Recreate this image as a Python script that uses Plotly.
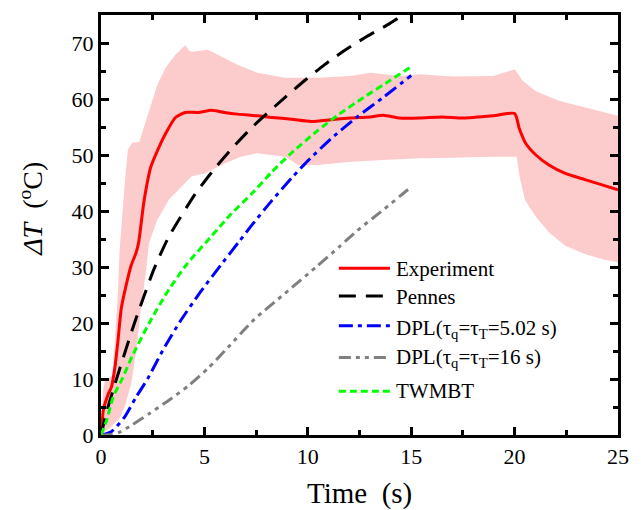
import plotly.graph_objects as go

# ---------------- data ----------------
t_exp = [0, 0.03, 0.11, 0.35, 0.5, 0.67, 0.82, 0.98, 1.22, 1.46, 1.7, 1.82, 2.09, 2.41, 2.73,
         3.12, 3.6, 4.07, 4.7, 5.34, 5.97, 6.6, 7.56, 8.27, 9.22, 10.17, 11.12, 12.07, 13.02,
         13.65, 14.45, 15.4, 16.5, 17.5, 18.96, 20.0, 20.23, 20.55, 21.03, 21.66, 22.45, 23.4,
         24.19, 25.0]
exp_mean = [0, 0.6, 4.4, 7.3, 8.5, 12.0, 16.8, 22.6, 26.8, 30.3, 32.6, 34.4, 42.0, 47.9, 50.8,
            53.8, 56.7, 57.6, 57.6, 58.0, 57.6, 57.3, 57.0, 56.7, 56.4, 56.0, 56.3, 56.6, 56.8,
            57.1, 56.6, 56.6, 56.8, 56.6, 57.0, 57.4, 54.7, 52.0, 50.0, 48.2, 46.7, 45.6,
            44.7, 43.8]

t_upper = [0, 0.1, 0.2, 0.55, 0.67, 0.82, 0.9, 1.0, 1.15, 1.3, 1.5, 1.85, 2.0, 2.33, 2.73, 3.12,
           3.6, 4.07, 4.3, 4.55, 5.18, 5.81, 6.6, 7.56, 8.9, 10.5, 12.07, 13.02, 14.45, 15.4,
           17.0, 18.96, 20.0, 20.4, 21.03, 22.13, 23.4, 25.0]
exp_upper = [0, 8.0, 10.0, 10.5, 16.8, 25.6, 33.0, 38.0, 45.0, 51.0, 52.2, 52.3, 54.0, 57.9, 62.6,
             65.6, 67.9, 69.6, 68.5, 68.5, 68.8, 67.6, 66.1, 64.7, 63.8, 63.8, 64.1, 64.7, 64.1,
             64.4, 64.0, 64.1, 65.3, 63.2, 61.4, 59.7, 58.5, 57.0]

t_lower = [0, 0.5, 0.9, 1.14, 1.46, 1.7, 1.93, 2.17, 2.33, 2.73, 3.28, 3.91, 4.39, 5.02, 5.97,
           6.76, 7.56, 8.9, 9.54, 10.49, 12.07, 13.65, 15.4, 17.0, 18.96, 20.1, 20.25, 20.5,
           21.0, 21.66, 22.45, 23.4, 24.35, 25.0]
exp_lower = [0, 1.5, 3.0, 5.0, 9.1, 15.0, 22.6, 29.1, 34.4, 38.5, 42.0, 44.4, 46.2, 46.7, 48.5,
             49.7, 50.3, 49.7, 48.2, 48.2, 48.8, 49.1, 49.4, 49.5, 49.7, 49.7, 46.0, 42.0,
             39.1, 36.2, 33.8, 32.3, 31.3, 30.9]

t_pennes = [0, 0.3, 0.75, 1.62, 2.57, 3.28, 4.55, 5.5, 6.29, 7.32, 8.9, 9.85, 10.8,
            11.92, 12.87, 13.97, 15.0]
pennes = [0, 4.5, 10.0, 20.0, 29.7, 35.4, 43.0, 47.6, 51.0, 55.0, 60.3, 63.3, 66.1,
          69.0, 71.2, 73.5, 76.0]

t_dpl1 = [0, 0.5, 1.14, 1.7, 2.25, 3.0, 3.83, 4.8, 5.89, 6.69, 7.32, 8.27, 9.22, 10.01,
          11.12, 12.39, 13.65, 15.0]
dpl1 = [0, 0.6, 3.2, 6.8, 10.0, 15.2, 20.3, 25.5, 30.8, 34.6, 37.6, 41.9, 45.9, 49.0,
        52.9, 56.8, 60.3, 64.2]

t_dpl2 = [0, 0.5, 0.9, 1.5, 2.33, 3.2, 4.23, 5.2, 6.13, 7.4, 8.9, 10.4, 11.52, 12.39,
          13.65, 14.84, 15.0]
dpl2 = [0, 0.1, 0.5, 1.8, 3.8, 6.0, 8.8, 12.0, 15.6, 20.6, 25.3, 30.0, 33.6, 36.5,
        40.2, 43.8, 44.2]

t_twmbt = [0, 0.27, 0.59, 1.06, 1.5, 2.33, 3.2, 4.15, 5.34, 6.3, 7.32, 8.27, 9.22, 10.49,
           11.44, 12.71, 13.97, 15.0]
twmbt = [0, 2.6, 6.8, 10.3, 14.0, 20.0, 25.5, 30.5, 35.5, 39.5, 43.2, 47.0, 50.4, 54.4,
         57.1, 60.3, 63.3, 65.8]

legend_names = ["Experiment", "Pennes", "DPL(τ<sub>q</sub>=τ<sub>T</sub>=5.02 s)",
                "DPL(τ<sub>q</sub>=τ<sub>T</sub>=16 s)", "TWMBT"]

x_ticks = [0, 5, 10, 15, 20, 25]
y_ticks = [0, 10, 20, 30, 40, 50, 60, 70]

# ---------------- styling ----------------
FONT = "Liberation Serif"
colors = ["#FF0000", "#000000", "#0000FF", "#808080", "#00FF00"]
dashes = ["solid", "17px,10px", "14px,5px,4px,5px", "12px,5px,4px,5px,4px,5px", "7px,4px"]
widths = [3, 3, 3, 3, 3]

fig = go.Figure()

band_x = t_upper + t_lower[::-1]
band_y = exp_upper + exp_lower[::-1]
fig.add_trace(go.Scatter(x=band_x, y=band_y, fill="toself", fillcolor="#FCCBCB",
                         mode="lines", line=dict(width=0), hoverinfo="skip", showlegend=False))

series = [(t_exp, exp_mean), (t_pennes, pennes), (t_dpl1, dpl1), (t_dpl2, dpl2), (t_twmbt, twmbt)]
for i, (xs, ys) in enumerate(series):
    fig.add_trace(go.Scatter(x=xs, y=ys, mode="lines", name=legend_names[i],
                             line=dict(color=colors[i], width=widths[i], dash=dashes[i],
                                       shape="spline", smoothing=0.6),
                             showlegend=False))

# ---------------- layout in page pixels ----------------
PAGE_W, PAGE_H = 641, 510
L, R, T, B = 101, 627, 12, 435
W, H = R - L, B - T
def px(x):
    return (x - L) / W
def py(y):
    return (B - y) / H

line_y = [267, 295, 325, 357, 391]
text_y = [268, 296, 328, 357, 391]
shapes = []
annotations = []
for i in range(5):
    shapes.append(dict(type="line", xref="paper", yref="paper",
                       x0=px(343), x1=px(395), y0=py(line_y[i]), y1=py(line_y[i]),
                       line=dict(color=colors[i], width=widths[i], dash=dashes[i])))
    annotations.append(dict(xref="paper", yref="paper", x=px(399), y=py(text_y[i]),
                            xanchor="left", yanchor="middle", showarrow=False,
                            text=legend_names[i], font=dict(family=FONT, size=21, color="black")))

annotations.append(dict(xref="paper", yref="paper", x=px(29.5), y=py(207.5),
                        xanchor="center", yanchor="middle", showarrow=False, textangle=-90,
                        text="<i>ΔT</i>\u00a0\u00a0(<sup>o</sup>C)",
                        font=dict(family=FONT, size=28, color="black")))
annotations.append(dict(xref="paper", yref="paper", x=px(364), y=py(494),
                        xanchor="center", yanchor="middle", showarrow=False,
                        text="Time\u00a0\u00a0(s)",
                        font=dict(family=FONT, size=29, color="black")))

axis_common = dict(showline=True, linewidth=3, linecolor="black", mirror="ticks",
                   ticks="inside", ticklen=8, tickwidth=2.5, tickcolor="black",
                   showgrid=False, zeroline=False,
                   tickfont=dict(family=FONT, size=22, color="black"))

fig.update_layout(
    width=PAGE_W, height=PAGE_H,
    margin=dict(l=L, r=PAGE_W - R, t=T, b=PAGE_H - B),
    paper_bgcolor="white", plot_bgcolor="white",
    showlegend=False,
    shapes=shapes, annotations=annotations,
    xaxis=dict(range=[0, 25], tickvals=x_ticks, ticktext=[str(v) for v in x_ticks],
               minor=dict(ticks="inside", ticklen=5, tickwidth=2.5, tickcolor="black", dtick=2.5),
               **axis_common),
    yaxis=dict(range=[0, 75], tickvals=y_ticks, ticktext=[str(v) for v in y_ticks],
               minor=dict(ticks="inside", ticklen=5, tickwidth=2.5, tickcolor="black", dtick=5),
               **axis_common),
)

# remove the browser's default 8px body margin so the figure fills the 641x510 window
fig.write_html("out.html",
               config={"displayModeBar": False},
               post_script="document.body.style.margin='0px';document.body.style.overflow='hidden';")
